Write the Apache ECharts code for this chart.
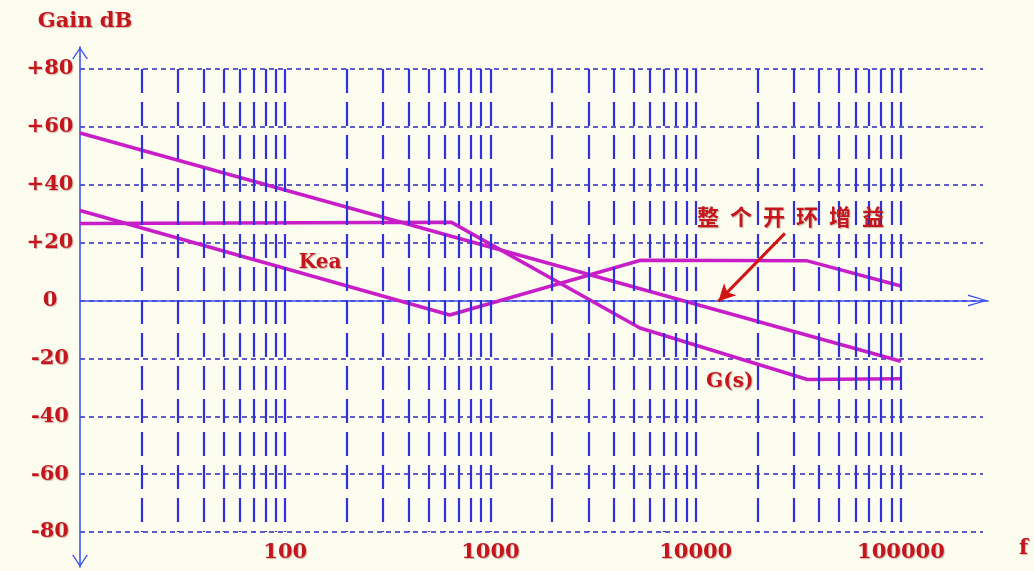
<!DOCTYPE html>
<html>
<head>
<meta charset="utf-8">
<script src="https://cdn.jsdelivr.net/npm/echarts@6/dist/echarts.min.js"></script>
<style>
  html, body { margin: 0; padding: 0; background: #fcfcef; }
  #chart { width: 1034px; height: 571px; }
</style>
</head>
<body>
<div id="chart"></div>
<script>
// Frequency range of the plot (Hz) and labelled decades
const freqMin = 10;
const freqMax = Math.pow(10, 5.4);
const freqLabels = [100, 1000, 10000, 100000];
// Gain ticks (dB)
const gainMin = -80;
const gainMax = 80;
const gainStep = 20;

// Vertical log grid: multipliers within each decade
const gridMultipliers = [2, 3, 4, 5, 6, 7, 8, 9, 10];
const gridDecades = [10, 100, 1000, 10000];

// Asymptotic Bode magnitude curves: [frequency Hz, gain dB]
const openLoopGain = [[10, 57.9], [100000, -21.0]];
const gsGain = [[10, 26.6], [646, 27.0], [5350, -9.5], [35000, -27.3], [100000, -27.0]];
const keaGain = [[10, 31.1], [634, -5.0], [5400, 13.9], [35000, 13.7], [100000, 5.0]];

// Text annotations placed in data coordinates
const annotationNames = ['Kea', 'G(s)', '整\u2002个\u2002开\u2002环\u2002增\u2002益'];
const annotationCoords = [[148, 13.2], [14650, -28.0], [29000, 29.0]];
const arrowFrom = [27200, 23.2];
const arrowTo = [12900, -0.3];

const red = '#c4161c';
const magenta = '#c81ec8';
const gridBlue = '#3030dc';
const axisBlue = '#3f52f0';
const textShadow = {
  textShadowColor: 'rgba(90,0,0,0.30)',
  textShadowBlur: 1,
  textShadowOffsetX: 1,
  textShadowOffsetY: 1
};
const serifBold = { fontFamily: 'DejaVu Serif', fontWeight: 'bold', color: red };

const gridFreqs = [];
gridDecades.forEach(d => gridMultipliers.forEach(m => gridFreqs.push(m * d)));

// Open chevron heads for the axis arrows (pointing up before rotation)
const chevronX = 'path://M0,20 L6,0 L12,20 L10.6,20 L6,3.6 L1.4,20 Z';
const chevronY = 'path://M0,12 L8,0 L16,12 L14.4,12 L8,2.2 L1.6,12 Z';

function curve(name, data) {
  return {
    name: name,
    type: 'line',
    xAxisIndex: 0,
    yAxisIndex: 0,
    data: data,
    symbol: 'none',
    silent: true,
    z: 3,
    lineStyle: { color: magenta, width: 3.5 }
  };
}

const chart = echarts.init(document.getElementById('chart'), null, { renderer: 'canvas' });

chart.setOption({
  backgroundColor: '#fcfcef',
  animation: false,
  title: {
    text: 'f',
    left: 1019,
    top: 538,
    padding: 0,
    textStyle: { fontSize: 21, ...serifBold, ...textShadow }
  },
  grid: [
    { left: 80, right: 51, top: 69, bottom: 39 },
    { left: 80, right: 46, top: 47, bottom: 4 }
  ],
  xAxis: [
    {
      gridIndex: 0,
      type: 'log',
      logBase: 10,
      min: freqMin,
      max: freqMax,
      axisLine: { show: false, onZero: false },
      axisTick: { show: false },
      splitLine: { show: false },
      minorTick: { show: false },
      axisLabel: {
        show: true,
        margin: 10,
        fontSize: 21,
        showMinLabel: false,
        showMaxLabel: false,
        ...serifBold,
        ...textShadow,
        formatter: v => {
          const hit = freqLabels.find(f => Math.abs(f - v) / f < 1e-6);
          return hit ? String(hit) : '';
        }
      }
    },
    {
      gridIndex: 1,
      type: 'value',
      min: 0,
      max: 1,
      axisLine: {
        show: true,
        onZero: true,
        symbol: ['none', chevronX],
        symbolSize: [12, 20],
        symbolOffset: [0, -10],
        lineStyle: { color: axisBlue, width: 1.6 }
      },
      axisTick: { show: false },
      axisLabel: { show: false },
      splitLine: { show: false }
    }
  ],
  yAxis: [
    {
      gridIndex: 0,
      type: 'value',
      min: gainMin,
      max: gainMax,
      interval: gainStep,
      axisLine: { show: false },
      axisTick: { show: false },
      axisLabel: {
        margin: 30,
        align: 'center',
        fontSize: 21,
        ...serifBold,
        ...textShadow,
        formatter: v => (v > 0 ? '+' + v : String(v))
      },
      splitLine: {
        show: true,
        lineStyle: { color: '#2828b8', width: 1.5, type: [5, 4] }
      },
      name: 'Gain dB',
      nameLocation: 'end',
      nameGap: 37,
      nameTextStyle: { fontSize: 21, align: 'center', padding: [0, 0, 0, 10], ...serifBold, ...textShadow }
    },
    {
      gridIndex: 1,
      type: 'value',
      min: -92.1,
      max: 87.6,
      axisLine: {
        show: true,
        onZero: true,
        symbol: [chevronY, chevronY],
        symbolSize: [16, 12],
        symbolOffset: [6, -6],
        lineStyle: { color: axisBlue, width: 1.6 }
      },
      axisTick: { show: false },
      axisLabel: { show: false },
      splitLine: { show: false }
    }
  ],
  series: [
    {
      name: 'logGrid',
      type: 'line',
      xAxisIndex: 0,
      yAxisIndex: 0,
      data: [],
      silent: true,
      z: 1,
      markLine: {
        silent: true,
        symbol: ['none', 'none'],
        label: { show: false },
        emphasis: { disabled: true },
        lineStyle: { color: gridBlue, width: 2.2, type: [24, 9], dashOffset: 23 },
        data: gridFreqs.map(f => ({ xAxis: f }))
      }
    },
    curve('整个开环增益', openLoopGain),
    curve('G(s)', gsGain),
    curve('Kea', keaGain),
    {
      name: 'annotations',
      type: 'line',
      xAxisIndex: 0,
      yAxisIndex: 0,
      data: [],
      silent: true,
      z: 4,
      markPoint: {
        silent: true,
        symbol: 'circle',
        symbolSize: 1,
        itemStyle: { color: 'rgba(0,0,0,0)' },
        label: {
          show: true,
          position: 'inside',
          formatter: '{b}',
          fontSize: 20,
          ...serifBold,
          ...textShadow
        },
        data: annotationNames.map((n, i) => {
          const item = { name: n, coord: annotationCoords[i] };
          if (i === 2) {
            item.label = { fontFamily: 'Noto Sans CJK SC', fontSize: 22, fontWeight: 'bold' };
          }
          return item;
        })
      },
      markLine: {
        silent: true,
        symbol: ['none', 'arrow'],
        symbolSize: [13, 17],
        label: { show: false },
        emphasis: { disabled: true },
        lineStyle: { color: '#d01414', width: 3, type: 'solid' },
        data: [[{ coord: arrowFrom }, { coord: arrowTo }]]
      }
    }
  ]
});
</script>
</body>
</html>
